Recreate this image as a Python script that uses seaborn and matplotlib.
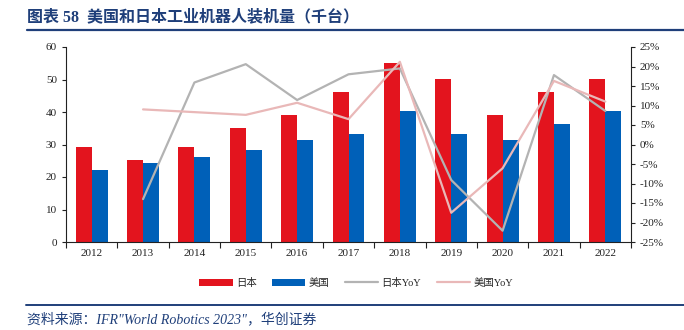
import matplotlib
matplotlib.use("Agg")
import matplotlib.pyplot as plt
import seaborn as sns
import pandas as pd
import numpy as np
from matplotlib.patches import Patch
from matplotlib.lines import Line2D
from matplotlib.ticker import FuncFormatter, MultipleLocator, FixedLocator

years = ["2012", "2013", "2014", "2015", "2016", "2017", "2018", "2019", "2020", "2021", "2022"]
japan = [29.2, 25.2, 29.2, 35.2, 39.2, 46.2, 55.2, 50.2, 39.2, 46.2, 50.2]
usa = [22.3, 24.3, 26.3, 28.3, 31.3, 33.3, 40.3, 33.3, 31.3, 36.3, 40.3]
japan_yoy = [None, -14.0, 15.9, 20.6, 11.4, 18.0, 19.5, -9.1, -22.1, 17.8, 8.6]
usa_yoy = [None, 9.0, 8.3, 7.6, 10.7, 6.5, 21.2, -17.5, -6.1, 16.3, 11.0]

series_names = ["日本", "美国", "日本YoY", "美国YoY"]
title = "图表 58  美国和日本工业机器人装机量（千台）"
source = "资料来源：IFR\"World Robotics 2023\"，华创证券"

RED = "#E3141E"
BLUE = "#0060B8"
GRAY = "#B3B3B3"
PINK = "#E9B8B8"
NAVY = "#1F3F7A"

sns.set_theme(style="white")
plt.rcParams["font.family"] = ["Liberation Serif", "Noto Sans CJK SC", "DejaVu Sans"]

fig = plt.figure(figsize=(6.84, 3.30), dpi=100)
ax = fig.add_axes([66/684, 1 - 242/330, (631-66)/684, (242-47)/330])

bars = pd.DataFrame({
    "year": years * 2,
    "value": japan + usa,
    "series": [series_names[0]] * len(years) + [series_names[1]] * len(years),
})
sns.barplot(data=bars, x="year", y="value", hue="series", order=years,
            hue_order=series_names[:2], palette=[RED, BLUE], width=0.62,
            saturation=1, ax=ax, legend=False, edgecolor="none")

ax.set_ylim(0, 60)
ax.set_xlim(-0.5, len(years) - 0.5)
ax.yaxis.set_major_locator(MultipleLocator(10))
ax.set_xlabel("")
ax.set_ylabel("")
ax.tick_params(axis="y", labelsize=8, length=3, direction="out", left=True, colors="#222222", width=0.8)
ax.tick_params(axis="x", which="major", labelsize=8, length=0, pad=5, colors="#222222")
ax.xaxis.set_minor_locator(FixedLocator(np.arange(-0.5, len(years), 1.0)))
ax.tick_params(axis="x", which="minor", length=4, direction="out", bottom=True, width=0.8, color="#222222")
for s in ["top", "right"]:
    ax.spines[s].set_visible(False)
for s in ["left", "bottom"]:
    ax.spines[s].set_color("#222222")
    ax.spines[s].set_linewidth(0.8)

ax2 = ax.twinx()
pos = np.arange(len(years))
lines = pd.DataFrame({
    "pos": np.concatenate([pos, pos]),
    "yoy": [np.nan if v is None else v for v in japan_yoy + usa_yoy],
    "series": [series_names[2]] * len(years) + [series_names[3]] * len(years),
})
sns.lineplot(data=lines, x="pos", y="yoy", hue="series", hue_order=series_names[2:],
             palette=[GRAY, PINK], linewidth=1.6, ax=ax2, legend=False)
ax2.set_ylim(-25, 25)
ax2.yaxis.set_major_locator(MultipleLocator(5))
ax2.yaxis.set_major_formatter(FuncFormatter(lambda v, p: f"{v:.0f}%"))
ax2.set_xlabel("")
ax2.set_ylabel("")
ax2.tick_params(axis="y", labelsize=8, length=3, direction="out", right=True, colors="#222222", width=0.8)
for s in ["top", "left", "bottom"]:
    ax2.spines[s].set_visible(False)
ax2.spines["right"].set_color("#222222")
ax2.spines["right"].set_linewidth(0.8)
ax2.set_xlim(-0.5, len(years) - 0.5)
ax2.grid(False)
ax.grid(False)

handles = [Patch(facecolor=RED, edgecolor="none"), Patch(facecolor=BLUE, edgecolor="none"),
           Line2D([], [], color=GRAY, lw=1.6), Line2D([], [], color=PINK, lw=1.6)]
fig.legend(handles, series_names, loc="center", bbox_to_anchor=(356/684, 1 - 283/330),
           ncol=4, frameon=False, handlelength=3.2, handleheight=0.7,
           columnspacing=1.5, handletextpad=0.3,
           prop={"family": ["Liberation Serif", "Noto Sans CJK SC"], "size": 7.5})

fig.text(27/684, 1 - 17/330, title, fontsize=11.5, fontweight="bold", color=NAVY,
         va="center", ha="left", family=["Liberation Serif", "Noto Sans CJK SC", "DejaVu Sans"])
fig.add_artist(Line2D([27/684, 1.0], [1 - 30/330, 1 - 30/330], color=NAVY, lw=1.6))
fig.add_artist(Line2D([26/684, 1.0], [1 - 305/330, 1 - 305/330], color=NAVY, lw=1.4))
fig.text(27/684, 1 - 319/330, source, fontsize=10, style="italic", color=NAVY,
         va="center", ha="left", family=["Liberation Serif", "Noto Sans CJK SC"])

fig.savefig("out.png", dpi=100)
